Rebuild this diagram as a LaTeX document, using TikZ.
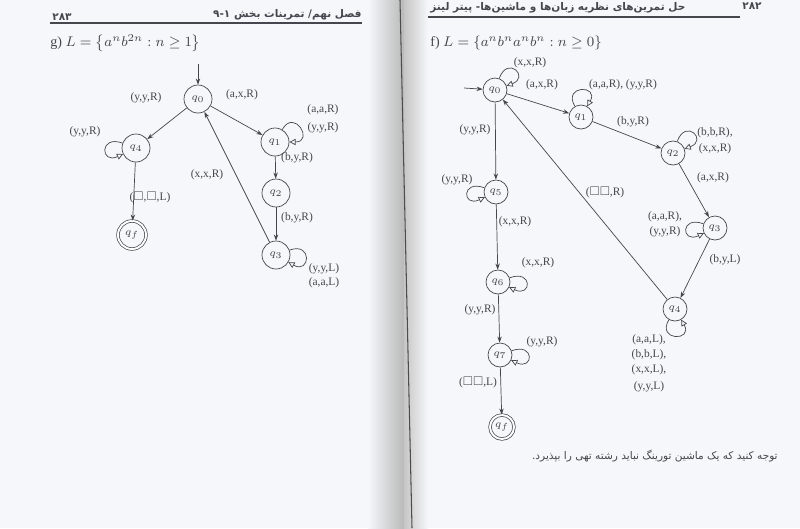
\documentclass[tikz,border=0pt]{standalone}
\usepackage{amssymb}
\usepackage{fontspec}
\setmainfont{Liberation Serif}
\newfontfamily\farsi[Script=Arabic]{DejaVu Sans}
\TeXXeTstate=1
\usetikzlibrary{
    arrows.meta,
    positioning
}
\definecolor{ink}{RGB}{70,70,78}
\definecolor{pagebg}{RGB}{246,247,250}
\tikzset{
    st/.style={circle, draw=ink, thin, minimum size=0.56cm, inner sep=0pt,
        font=\fontsize{6}{6}\selectfont, text=ink},
    sst/.style={st, minimum size=0.48cm},
    acc/.style={double, double distance=1.1pt},
    tr/.style={draw=ink, thin, -{Stealth[length=3.5pt,width=2.5pt]}},
    lp/.style={draw=ink, thin, -{Triangle[open,length=3.5pt,width=3.5pt]}, min distance=5mm},
    lbl/.style={font=\fontsize{6.5}{7}\selectfont, text=ink, inner sep=1pt},
    hdr/.style={font=\farsi\bfseries\fontsize{6}{7}\selectfont, text=ink, inner sep=0pt},
    ttl/.style={font=\fontsize{8}{9}\selectfont, text=ink, anchor=west, inner sep=0pt}
}
\newcommand{\bx}{$\square$}
\begin{document}
\begin{tikzpicture}[x=0.02cm, y=-0.02cm]
\useasboundingbox (0,0) rectangle (800,528);
\fill[pagebg] (0,0) rectangle (800,528);
% gutter
\shade[left color=pagebg, right color=gray!55] (368,0) rectangle (404,528);
\shade[left color=gray!45, right color=pagebg] (404,0) rectangle (428,528);
\draw[gray!60!black, line width=0.6pt] (400,0) -- (412,528);

% left page header
\node[hdr] (pg1) at (62,17) {۲۸۳};
\node[hdr, anchor=east] (hd1) at (362,15) {\beginR فصل نهم/ تمرینات بخش \beginL۹-۱\endL\endR};
\draw[ink, line width=1.3pt] (50,23) -- (362,23);
\node[ttl] (tg) at (50,43) {g)\ $L=\left\{a^nb^{2n}:n\geq 1\right\}$};

% right page header
\node[hdr] (pg2) at (752,6) {۲۸۲};
\node[hdr, anchor=west] (hd2) at (430,8) {\beginR حل تمرین‌های نظریه زبان‌ها و ماشین‌ها- پیتر لینز\endR};
\draw[ink, line width=1.3pt] (428,17) -- (740,17);
\node[ttl] (tf) at (430,43) {f)\ $L=\left\{a^nb^na^nb^n:n\geq 0\right\}$};

% machine g
\node[st] (g0) at (198,99) {$q_0$};
\node[st] (g4) at (136,148) {$q_4$};
\node[st] (g1) at (275,142) {$q_1$};
\node[st] (g2) at (276,193) {$q_2$};
\node[st] (g3) at (276,255) {$q_3$};
\node[st, acc] (gf) at (132,235) {$q_f$};
\coordinate (gs) at (198,64);
\draw[tr] (gs) -- (g0);
\draw[tr] (g0) -- (g4);
\draw[tr] (g0) -- (g1);
\draw[tr] (g1) -- (g2);
\draw[tr] (g2) -- (g3);
\draw[tr] (g3) -- (g0);
\draw[tr] (g4) -- (gf);
\path (g1) edge[lp, out=60, in=0] (g1);
\path (g3) edge[lp, out=20, in=-30] (g3);
\path (g4) edge[lp, out=160, in=205] (g4);
\node[lbl] (lg1) at (146,98) {(y,y,R)};
\node[lbl] (lg2) at (242,95) {(a,x,R)};
\node[lbl] (lg3) at (323,110) {(a,a,R)};
\node[lbl] (lg4) at (323,128) {(y,y,R)};
\node[lbl] (lg5) at (85,132) {(y,y,R)};
\node[lbl] (lg6) at (207,175) {(x,x,R)};
\node[lbl] (lg7) at (297,158) {(b,y,R)};
\node[lbl] (lg8) at (297,218) {(b,y,R)};
\node[lbl] (lg9) at (150,197) {(\bx,\bx,L)};
\node[lbl] (lg10) at (324,269) {(y,y,L)};
\node[lbl] (lg11) at (324,283) {(a,a,L)};

% machine f
\node[sst] (f0) at (495,90) {$q_0$};
\node[sst] (f1) at (581,117) {$q_1$};
\node[sst] (f2) at (673,153) {$q_2$};
\node[sst] (f3) at (715,228) {$q_3$};
\node[sst] (f4) at (675,309) {$q_4$};
\node[sst] (f5) at (496,192) {$q_5$};
\node[sst] (f6) at (498,282) {$q_6$};
\node[sst] (f7) at (500,355) {$q_7$};
\node[sst, acc] (ff) at (502,427) {$q_f$};
\coordinate (fs) at (464,88);
\draw[tr] (fs) -- (f0);
\draw[tr] (f0) -- (f1);
\draw[tr] (f1) -- (f2);
\draw[tr] (f2) -- (f3);
\draw[tr] (f3) -- (f4);
\draw[tr] (f4) -- (f0);
\draw[tr] (f0) -- (f5);
\draw[tr] (f5) -- (f6);
\draw[tr] (f6) -- (f7);
\draw[tr] (f7) -- (ff);
\path (f0) edge[lp, out=70, in=20] (f0);
\path (f1) edge[lp, out=120, in=60] (f1);
\path (f2) edge[lp, out=70, in=20] (f2);
\path (f3) edge[lp, out=160, in=205] (f3);
\path (f4) edge[lp, out=240, in=300] (f4);
\path (f5) edge[lp, out=160, in=205] (f5);
\path (f6) edge[lp, out=20, in=-25] (f6);
\path (f7) edge[lp, out=20, in=-25] (f7);
\node[lbl] (lf1) at (530,63) {(x,x,R)};
\node[lbl] (lf2) at (542,85) {(a,x,R)};
\node[lbl] (lf3) at (623,85) {(a,a,R), (y,y,R)};
\node[lbl] (lf4) at (633,122) {(b,y,R)};
\node[lbl] (lf5) at (475,130) {(y,y,R)};
\node[lbl] (lf6) at (457,180) {(y,y,R)};
\node[lbl] (lf7) at (605,192) {(\bx\bx,R)};
\node[lbl] (lf8) at (715,133) {(b,b,R),};
\node[lbl] (lf9) at (715,149) {(x,x,R)};
\node[lbl] (lf10) at (713,178) {(a,x,R)};
\node[lbl] (lf11) at (665,217) {(a,a,R),};
\node[lbl] (lf12) at (665,232) {(y,y,R)};
\node[lbl] (lf13) at (725,260) {(b,y,L)};
\node[lbl] (lf14) at (649,340) {(a,a,L),};
\node[lbl] (lf15) at (649,355) {(b,b,L),};
\node[lbl] (lf16) at (649,370) {(x,x,L),};
\node[lbl] (lf17) at (649,387) {(y,y,L)};
\node[lbl] (lf18) at (515,222) {(x,x,R)};
\node[lbl] (lf19) at (538,263) {(x,x,R)};
\node[lbl] (lf20) at (480,310) {(y,y,R)};
\node[lbl] (lf21) at (542,342) {(y,y,R)};
\node[lbl] (lf22) at (478,382) {(\bx\bx,L)};

% note
\node[hdr, font=\farsi\fontsize{6}{7}\selectfont, anchor=east] (nt) at (778,456) {\beginR توجه کنید که یک ماشین تورینگ نباید رشته تهی را بپذیرد.\endR};
\end{tikzpicture}
\end{document}
